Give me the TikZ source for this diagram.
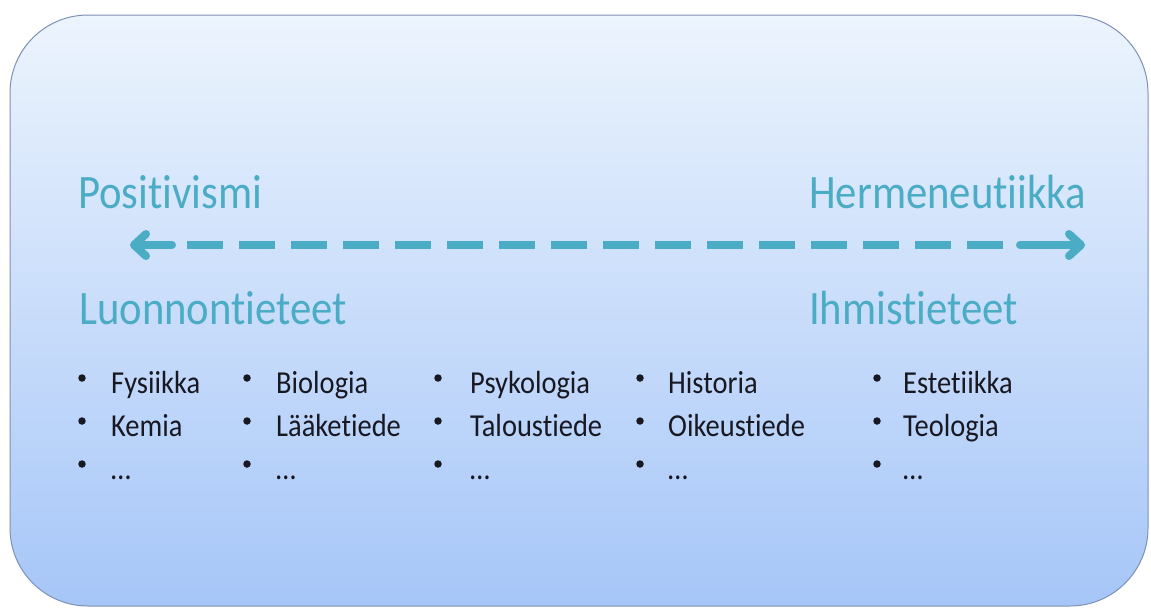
\documentclass[tikz,border=0pt]{standalone}
\usepackage{fontspec}
\setmainfont{Carlito}[FakeStretch=0.89, Ligatures={NoCommon,NoRare}]
\usetikzlibrary{arrows.meta}
\definecolor{teal}{RGB}{75,172,198}
\definecolor{ink}{RGB}{24,24,34}
\definecolor{panelTop}{RGB}{236,244,253}
\definecolor{panelBottom}{RGB}{166,198,248}
\definecolor{panelEdge}{RGB}{125,145,180}
\tikzset{
  heading/.style={anchor=base west, inner sep=0pt, text=teal,
    font=\fontsize{48}{58}\selectfont},
  item/.style={anchor=base west, inner sep=0pt, text=ink,
    font=\fontsize{32}{38}\selectfont},
  dot/.style={fill=ink, circle, inner sep=0pt, minimum size=7.5pt},
  axisline/.style={draw=teal, line width=8pt},
  barb/.tip={Straight Barb[length=12pt, width=22pt, round]}
}
\begin{document}
\begin{tikzpicture}[x=1pt, y=-1pt]
\useasboundingbox (0,0) rectangle (1151,608);
\fill[white] (0,0) rectangle (1151,608);

% background panel
\path[draw=panelEdge, line width=1pt, rounded corners=78pt,
      top color=panelTop, bottom color=panelBottom]
  (10,15) rectangle (1148,606);

% headings
\node[heading] (pos) at (78,208) {Positivismi};
\node[heading] (her) at (809,208) {Hermeneutiikka};
\node[heading] (luo) at (79,324) {Luonnontieteet};
\node[heading] (ihm) at (809,324) {Ihmistieteet};

% two-headed dashed axis
\coordinate (tipL) at (130,245);
\coordinate (shaftL) at (172,245);
\coordinate (dashA) at (187,245);
\coordinate (dashB) at (1003,245);
\coordinate (shaftR) at (1020,245);
\coordinate (tipR) at (1085,245);
\draw[axisline, line cap=round, {barb}-] (tipL) -- (shaftL);
\draw[axisline, dash pattern=on 36pt off 16pt] (dashA) -- (dashB);
\draw[axisline, line cap=round, -{barb}] (shaftR) -- (tipR);

% bullet lists, five columns
\foreach \bx/\tx/\a/\b [count=\c] in
  {82/111/Fysiikka/Kemia,
   247/276/Biologia/Lääketiede,
   438/470/Psykologia/Taloustiede,
   640/668/Historia/Oikeustiede,
   877/903/Estetiikka/Teologia}{
  \node[dot] (d\c a) at (\bx,378) {};
  \node[dot] (d\c b) at (\bx,421) {};
  \node[dot] (d\c c) at (\bx,464) {};
  \node[item] (i\c a) at (\tx,393) {\a};
  \node[item] (i\c b) at (\tx,436) {\b};
  \node[item] (i\c c) at (\tx,479) {…};
}
\end{tikzpicture}
\end{document}
